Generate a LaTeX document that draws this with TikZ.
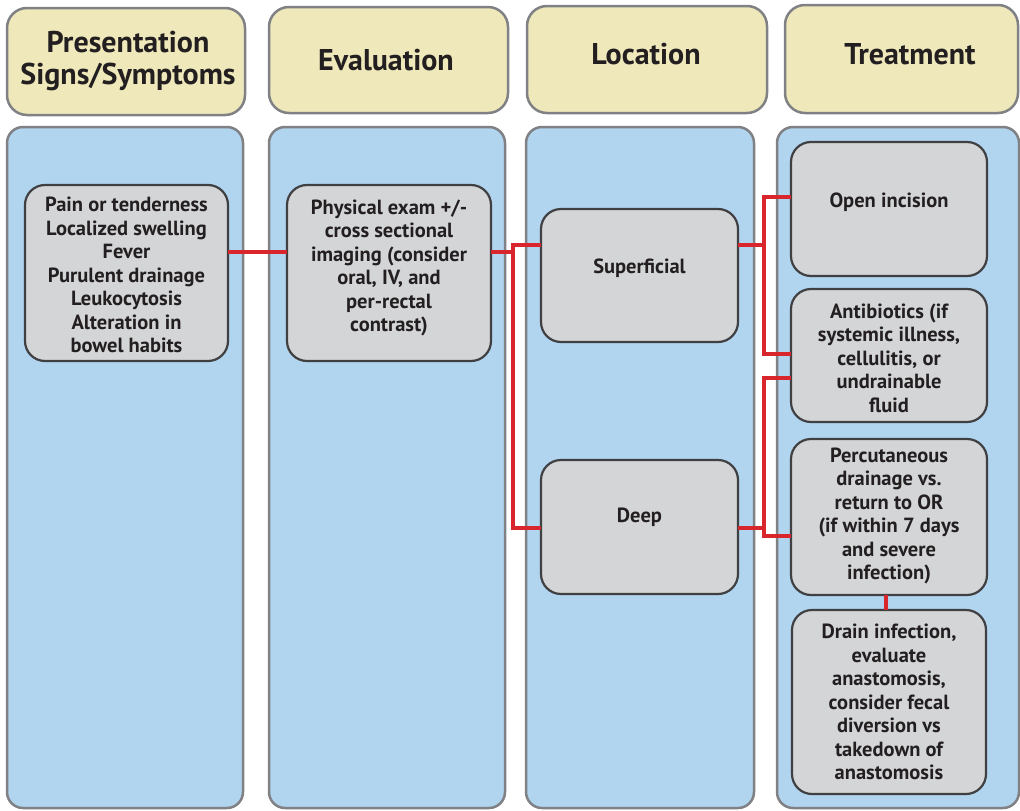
\documentclass[tikz,border=0pt]{standalone}
\usepackage{fontspec}
\setmainfont{PT Sans}
\definecolor{hdrfill}{HTML}{EEE8BA}
\definecolor{panelfill}{HTML}{B1D4EF}
\definecolor{boxfill}{HTML}{D4D5D7}
\definecolor{edgegray}{HTML}{808184}
\definecolor{boxedge}{HTML}{404043}
\definecolor{linkred}{HTML}{D9262C}
\definecolor{ink}{HTML}{231F20}
\begin{document}
\begin{tikzpicture}[x=1pt,y=-1pt,
  header/.style={draw=edgegray, line width=2.5pt, fill=hdrfill, rounded corners=20pt},
  panel/.style={draw=edgegray, line width=2.5pt, fill=panelfill, rounded corners=16pt},
  item/.style={draw=boxedge, line width=2.2pt, fill=boxfill, rounded corners=20pt,
    inner sep=0pt, outer sep=0pt},
  htext/.style={font=\bfseries\fontsize{30}{32}\selectfont, text=ink, align=center, inner sep=0pt},
  itext/.style={font=\bfseries\fontsize{20.5}{23.5}\selectfont, text=ink, align=center, inner sep=0pt},
  link/.style={draw=linkred, line width=3.2pt}]
\useasboundingbox (0,0) rectangle (1020,811);

% column panels
\draw[panel] (7,127) rectangle (243,808);
\draw[panel] (269,127) rectangle (505,808);
\draw[panel] (526,127) rectangle (754,808);
\draw[panel] (777,127) rectangle (1019,808);

% column headers
\node[header, minimum width=238pt, minimum height=107pt] (h1) at (126,61.5) {};
\node[header, minimum width=239pt, minimum height=106pt] (h2) at (388.5,60) {};
\node[header, minimum width=240pt, minimum height=107pt] (h3) at (647,59.5) {};
\node[header, minimum width=233pt, minimum height=108pt] (h4) at (901.5,59) {};
\node[htext] (t1) at (128,61) {Presentation\\Signs/Symptoms};
\node[htext] (t2) at (386,60) {Evaluation};
\node[htext] (t3) at (646,54) {Location};
\node[htext] (t4) at (910,54) {Treatment};

% step boxes
\node[item, minimum width=203pt, minimum height=176pt] (pres) at (126.5,273) {};
\node[item, minimum width=204pt, minimum height=176pt] (eva) at (389,273) {};
\node[item, minimum width=197pt, minimum height=133pt] (sup) at (639.5,275.5) {};
\node[item, minimum width=197pt, minimum height=134pt] (deep) at (639.5,527) {};
\node[item, minimum width=196pt, minimum height=134pt] (open) at (889,209) {};
\node[item, minimum width=196pt, minimum height=133pt] (anti) at (889,355.5) {};
\node[item, minimum width=196pt, minimum height=156pt] (perc) at (889,517) {};
\node[item, minimum width=194pt, minimum height=184pt] (drain) at (889,702) {};

% box texts
\node[itext] (presT) at (pres.center |- 0,275) {Pain or tenderness\\Localized swelling\\Fever\\Purulent drainage\\Leukocytosis\\Alteration in\\bowel habits};
\node[itext] (evaT) at (eva.center |- 0,268) {Physical exam +/-\\cross sectional\\imaging (consider\\oral, IV, and\\per-rectal\\contrast)};
\node[itext] (supT) at (sup.center |- 0,268) {Superficial};
\node[itext] (deepT) at (deep.center |- 0,517) {Deep};
\node[itext] (openT) at (open.center |- 0,202) {Open incision};
\node[itext] (antiT) at (anti.center |- 0,358) {Antibiotics (if\\systemic illness,\\cellulitis, or\\undrainable\\fluid};
\node[itext] (percT) at (perc.center |- 0,516) {Percutaneous\\drainage vs.\\return to OR\\(if within 7 days\\and severe\\infection)};
\node[itext] (drainT) at (drain.center |- 0,702) {Drain infection,\\evaluate\\anastomosis,\\consider fecal\\diversion vs\\takedown of\\anastomosis};

% junctions
\coordinate (ja) at (513,245);
\coordinate (jb) at (764,245);

% connectors
\draw[link] (pres.east |- 0,252) -- (eva.west |- 0,252);
\draw[link] (eva.east |- 0,252) -- (ja |- 0,252);
\draw[link] (sup.west |- ja) -- (ja) -- (ja |- 0,528) -- (deep.west |- 0,528);
\draw[link] (sup.east |- jb) -- (jb);
\draw[link] (open.west |- 0,197) -- (jb |- 0,197) -- (jb |- 0,354) -- (anti.west |- 0,354);
\draw[link] (deep.east |- 0,528) -- (jb |- 0,528);
\draw[link] (anti.west |- 0,378) -- (jb |- 0,378) -- (jb |- 0,536) -- (perc.west |- 0,536);
\draw[link] (perc.south -| 886,0) -- (drain.north -| 886,0);
\end{tikzpicture}
\end{document}
